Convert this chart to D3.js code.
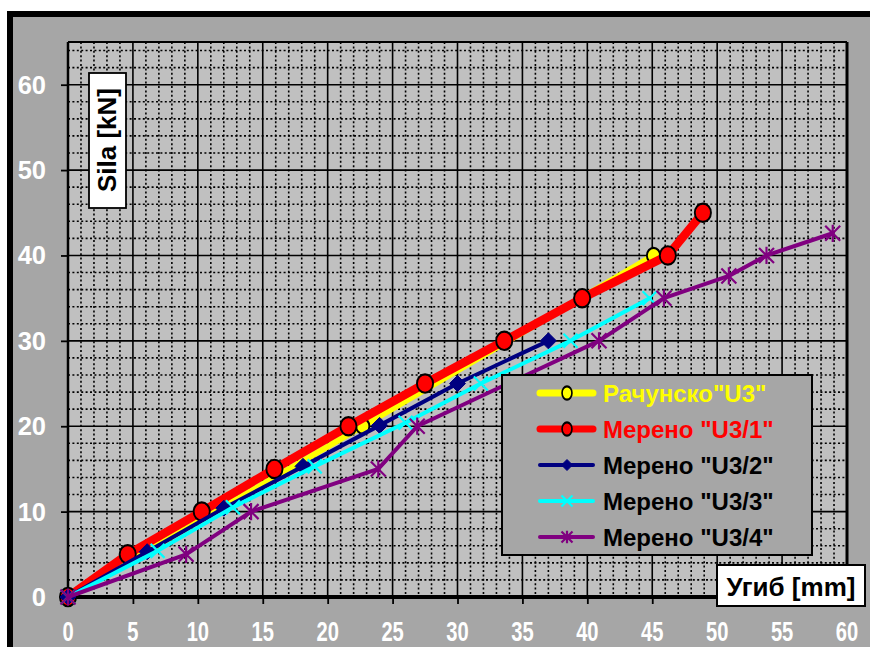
<!DOCTYPE html>
<html><head><meta charset="utf-8">
<script src="https://cdn.jsdelivr.net/npm/d3@7"></script>
<style>html,body{margin:0;padding:0;background:#fff;}svg{display:block;}</style>
</head><body>
<svg id="chart" width="870" height="647"></svg>
<script>
// ---- data ----
const seriesNames = ['Рачунско"U3"', 'Мерено "U3/1"', 'Мерено "U3/2"', 'Мерено "U3/3"', 'Мерено "U3/4"'];
const calcU3X  = [0, 22.7, 45.1];
const calcU3Y  = [0, 20, 40];
const meas1X   = [0, 4.6, 10.3, 15.9, 21.6, 27.5, 33.6, 39.6, 46.2, 48.9];
const meas1Y   = [0, 5, 10, 15, 20, 25, 30, 35, 40, 45];
const meas2X   = [0, 6.1, 12.0, 18.1, 24.0, 30.0, 37.0];
const meas2Y   = [0, 5.3, 10.4, 15.3, 20.1, 25, 30];
const meas3X   = [0, 6.9, 12.7, 19.0, 26.0, 31.8, 38.7, 44.8];
const meas3Y   = [0, 5.4, 10.5, 15.3, 20.4, 25, 30, 35];
const meas4X   = [0, 9.1, 14.1, 23.9, 26.9, 40.9, 45.9, 50.9, 53.8, 58.9];
const meas4Y   = [0, 5, 10, 15, 20, 30, 35, 37.6, 40, 42.6];
const xTicks   = [0, 5, 10, 15, 20, 25, 30, 35, 40, 45, 50, 55, 60];
const yTicks   = [0, 10, 20, 30, 40, 50, 60];
const xTitle   = 'Угиб [mm]';
const yTitle   = 'Sila [kN]';

// ---- styles ----
const styles = [
  {color:'#ffff00', width:6,  legendWidth:7, marker:'circle', r:7,  textColor:'#ffff00'},
  {color:'#ff0000', width:8.5,legendWidth:7, marker:'circle', r:8.5,textColor:'#ff0000'},
  {color:'#000080', width:4,  legendWidth:4, marker:'diamond',r:8,  textColor:'#000000'},
  {color:'#00ffff', width:4,  legendWidth:4, marker:'x',      r:7,  textColor:'#000000'},
  {color:'#800080', width:4,  legendWidth:4, marker:'star',   r:7.5,textColor:'#000000'}
];
const series = [
  {xs:calcU3X, ys:calcU3Y}, {xs:meas1X, ys:meas1Y}, {xs:meas2X, ys:meas2Y},
  {xs:meas3X, ys:meas3Y}, {xs:meas4X, ys:meas4Y}
].map((s,i)=>({name:seriesNames[i], style:styles[i], pts:s.xs.map((v,j)=>[v, s.ys[j]])}));

const svg = d3.select('#chart');
const L = 68, R = 847, T = 42, B = 597;
const x = d3.scaleLinear().domain([0,60]).range([L,R]);
const y = d3.scaleLinear().domain([0,65]).range([B,T]);

// chart area
svg.append('rect').attr('x',10).attr('y',14).attr('width',900).attr('height',700)
  .attr('fill','#a6a6a6').attr('stroke','#000').attr('stroke-width',6);

// plot area
svg.append('rect').attr('x',L).attr('y',T).attr('width',R-L).attr('height',B-T).attr('fill','#c0c0c0');

// minor gridlines
const minorX = d3.range(1,60).filter(v=>v%5!==0);
const minorY = d3.range(2,65,2).filter(v=>v%10!==0);
const g = svg.append('g');
g.selectAll('.mx').data(minorX).enter().append('line')
  .attr('x1',d=>x(d)).attr('x2',d=>x(d)).attr('y1',T).attr('y2',B)
  .attr('stroke','#000').attr('stroke-width',1.6).attr('stroke-dasharray','2,2.4');
g.selectAll('.my').data(minorY).enter().append('line')
  .attr('y1',d=>y(d)).attr('y2',d=>y(d)).attr('x1',L).attr('x2',R)
  .attr('stroke','#000').attr('stroke-width',1.6).attr('stroke-dasharray','2,2.4');
// major gridlines
g.selectAll('.Mx').data(xTicks.filter(v=>v>0&&v<60)).enter().append('line')
  .attr('x1',d=>x(d)).attr('x2',d=>x(d)).attr('y1',T).attr('y2',B)
  .attr('stroke','#000').attr('stroke-width',1.6);
g.selectAll('.My').data(yTicks.filter(v=>v>0)).enter().append('line')
  .attr('y1',d=>y(d)).attr('y2',d=>y(d)).attr('x1',L).attr('x2',R)
  .attr('stroke','#000').attr('stroke-width',1.6);

// plot border
svg.append('line').attr('x1',L).attr('x2',R).attr('y1',T).attr('y2',T).attr('stroke','#000').attr('stroke-width',2);
svg.append('line').attr('x1',R).attr('x2',R).attr('y1',T).attr('y2',B).attr('stroke','#000').attr('stroke-width',3);

// axes
const xAxis = svg.append('g').attr('transform',`translate(0,${B})`)
  .call(d3.axisBottom(x).tickValues(xTicks).tickSize(7).tickFormat(''));
xAxis.select('.domain').attr('stroke','#000').attr('stroke-width',4).attr('d',`M${L},0H${R}`);
xAxis.selectAll('.tick line').attr('stroke','#000').attr('stroke-width',1.8);
const yAxis = svg.append('g').attr('transform',`translate(${L},0)`)
  .call(d3.axisLeft(y).tickValues(yTicks).tickSize(7).tickFormat(''));
yAxis.select('.domain').attr('stroke','#000').attr('stroke-width',2.5).attr('d',`M0,${T}V${B}`);
yAxis.selectAll('.tick line').attr('stroke','#000').attr('stroke-width',1.8);

// tick labels
svg.append('g').selectAll('text').data(yTicks).enter().append('text')
  .attr('x',46).attr('y',d=>y(d)+9).attr('text-anchor','end')
  .attr('font-family','Liberation Sans, Arial, sans-serif').attr('font-weight','bold')
  .attr('font-size',25.5).attr('fill','#fff').text(d=>d);
svg.append('g').selectAll('text').data(xTicks).enter().append('text')
  .attr('transform',d=>`translate(${x(d)},641) scale(0.72,1)`).attr('text-anchor','middle')
  .attr('font-family','Liberation Sans, Arial, sans-serif').attr('font-weight','bold')
  .attr('font-size',28).attr('fill','#fff').text(d=>d);

// marker path generator
function markerPath(type, r){
  if(type==='circle') return d3.symbol(d3.symbolCircle, Math.PI*r*r)();
  if(type==='diamond') return `M0,${-r}L${r},0L0,${r}L${-r},0Z`;
  if(type==='x') return `M${-r},${-r}L${r},${r}M${-r},${r}L${r},${-r}`;
  return `M${-r},${-r}L${r},${r}M${-r},${r}L${r},${-r}M0,${-r*1.15}L0,${r*1.15}`;
}
function drawMarker(sel, st, sx, sy){
  const p = sel.append('path').attr('d',markerPath(st.marker, st.r))
    .attr('transform',`translate(${sx},${sy})` + (st.marker==='circle'?' scale(0.95,1.08)':''));
  if(st.marker==='circle') p.attr('fill',st.color).attr('stroke','#000').attr('stroke-width',2);
  else if(st.marker==='diamond') p.attr('fill',st.color).attr('stroke',st.color).attr('stroke-width',1);
  else p.attr('fill','none').attr('stroke',st.color).attr('stroke-width',2.2);
}

// series
const line = d3.line().x(d=>x(d[0])).y(d=>y(d[1]));
series.forEach(s=>{
  const gs = svg.append('g');
  gs.append('path').datum(s.pts).attr('d',line).attr('fill','none')
    .attr('stroke',s.style.color).attr('stroke-width',s.style.width)
    .attr('stroke-linejoin','round').attr('stroke-linecap','round');
  s.pts.forEach(p=>drawMarker(gs, s.style, x(p[0]), y(p[1])));
});

// legend
const lg = svg.append('g');
lg.append('rect').attr('x',502).attr('y',375).attr('width',310).attr('height',180)
  .attr('fill','#a6a6a6').attr('stroke','#000').attr('stroke-width',2);
const rowY = d3.scalePoint().domain(d3.range(series.length)).range([393,537]);
series.forEach((s,i)=>{
  const cy = rowY(i);
  lg.append('line').attr('x1',540).attr('x2',593).attr('y1',cy).attr('y2',cy)
    .attr('stroke',s.style.color).attr('stroke-width',s.style.legendWidth).attr('stroke-linecap','round');
  const st = Object.assign({}, s.style, {r: 5.5});
  const m = lg.append('g');
  drawMarker(m, st, 567, cy);
  if(st.marker==='circle') m.select('path').attr('transform',`translate(567,${cy}) scale(0.9,1.2)`).attr('stroke-width',1.8);
  lg.append('text').attr('x',603).attr('y',cy+9)
    .attr('font-family','Liberation Sans, Arial, sans-serif').attr('font-weight','bold')
    .attr('font-size',24).attr('fill',s.style.textColor).text(s.name);
});

// axis titles
svg.append('rect').attr('x',89).attr('y',73).attr('width',37).attr('height',135)
  .attr('fill','#fff').attr('stroke','#000').attr('stroke-width',1.8);
svg.append('text').attr('transform','translate(116,140) rotate(-90)').attr('text-anchor','middle')
  .attr('font-family','Liberation Sans, Arial, sans-serif').attr('font-weight','bold')
  .attr('font-size',26).attr('fill','#000').text(yTitle);
svg.append('rect').attr('x',717).attr('y',565).attr('width',148).attr('height',41)
  .attr('fill','#fff').attr('stroke','#000').attr('stroke-width',2);
svg.append('text').attr('x',791).attr('y',596).attr('text-anchor','middle')
  .attr('font-family','Liberation Sans, Arial, sans-serif').attr('font-weight','bold')
  .attr('font-size',26).attr('fill','#000').text(xTitle);
</script>
</body></html>
